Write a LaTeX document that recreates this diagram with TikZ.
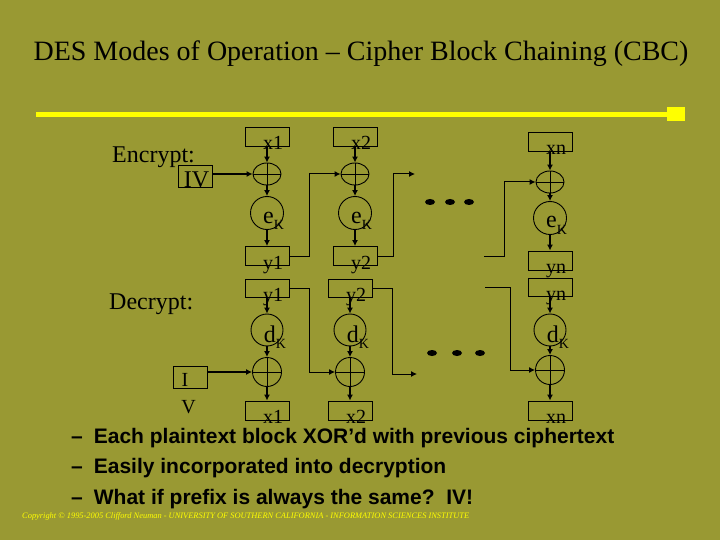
\documentclass[tikz,border=0pt]{standalone}
\usepackage{fontspec}
\setmainfont{Liberation Serif}
\newfontfamily\bulletfont{Liberation Sans}
\usetikzlibrary{arrows.meta,shapes.geometric}
\definecolor{olivebg}{RGB}{153,153,51}
\definecolor{baryellow}{RGB}{255,255,0}
% letter with a lowered K
\newcommand{\kname}[1]{{\fontsize{24}{24}\selectfont #1}\raisebox{-6pt}{\fontsize{14}{14}\selectfont K}}

\begin{document}
\begin{tikzpicture}[x=1pt,y=-1pt,
    every node/.style={inner sep=0pt},
    tag/.style={font=\fontsize{20}{20}\selectfont,text height=14pt,text depth=4pt},
    blk/.style={draw,line width=0.9pt,minimum width=44pt,minimum height=19pt,
        label={[tag,xshift=6pt,yshift=-8pt]center:#1}},
    xorop/.style={draw,line width=0.9pt,ellipse,minimum width=28pt,minimum height=22pt,
        path picture={\draw[line width=0.9pt] (path picture bounding box.north) -- (path picture bounding box.south)
            (path picture bounding box.west) -- (path picture bounding box.east);}},
    keyop/.style={draw,line width=0.9pt,circle,minimum size=33pt},
    arr/.style={-{Latex[length=6pt,width=6pt]},line width=1.4pt},
    link/.style={-{Latex[length=6pt,width=6pt]},line width=1pt},
    dot/.style={fill,ellipse,minimum width=10pt,minimum height=6pt}
]
    % background and title bar
    \fill[olivebg] (0,0) rectangle (720,540);
    \node[anchor=base,font=\fontsize{28}{28}\selectfont] (title) at (361,61)
        {DES Modes of Operation – Cipher Block Chaining (CBC)};
    \draw[baryellow,line width=5pt] (36,114.5) -- (667,114.5);
    \fill[baryellow] (667,107) rectangle (685,121);

    % encryption
    \node[anchor=base west,font=\fontsize{24}{24}\selectfont] (enc) at (112,163) {Encrypt:};
    \node[draw,line width=0.9pt,minimum width=34pt,minimum height=22pt,
        label={[font=\fontsize{24}{24}\selectfont,xshift=1.5pt,yshift=-3.5pt]center:IV}]
        (iv) at (195,176.5) {};

    \node[blk=x1] (ex1) at (267,136.5) {};
    \node[xorop] (eo1) at (267,174) {};
    \node[keyop,label={[tag,xshift=6.5pt,yshift=-5pt]center:\kname{e}}] (ek1) at (267,213) {};
    \node[blk=y1] (ey1) at (267,256) {};

    \node[blk=x2] (ex2) at (355,136.5) {};
    \node[xorop] (eo2) at (355,174) {};
    \node[keyop,label={[tag,xshift=6.5pt,yshift=-5pt]center:\kname{e}}] (ek2) at (355,213) {};
    \node[blk=y2] (ey2) at (355,256) {};

    \node[blk=xn] (exn) at (550,142) {};
    \node[xorop] (eon) at (550,182) {};
    \node[keyop,label={[tag,xshift=6.5pt,yshift=-5pt]center:\kname{e}}] (ekn) at (550,218) {};
    \node[blk=yn] (eyn) at (550,260.5) {};

    \foreach \c in {1,2,n} {
        \draw[arr] (ex\c) -- (eo\c);
        \draw[arr] (eo\c) -- (ek\c);
        \draw[arr] (ek\c) -- (ey\c);
    }
    \draw[arr] (iv.east |- eo1.west) -- (eo1.west);
    \draw[link] (ey1.east) -- ++(20,0) |- (eo2.west);
    \coordinate (eout) at (415,174);
    \coordinate (ein) at (484,256);
    \draw[link] (ey2.east) -- ++(16,0) |- (eout);
    \draw[link] (ein) -- ++(20,0) |- (eon.west);
    \foreach \dx in {430,450,469}
        \node[dot] (ed\dx) at (\dx,202) {};

    % decryption
    \node[anchor=base west,font=\fontsize{24}{24}\selectfont] (dec) at (109,309) {Decrypt:};
    \node[draw,line width=0.9pt,minimum width=34pt,minimum height=22pt,
        label={[font=\fontsize{20}{20}\selectfont,xshift=-5pt,yshift=-2.5pt]center:I},
        label={[font=\fontsize{20}{20}\selectfont,xshift=-1.5pt,yshift=-30pt]center:V}]
        (ivd) at (190,377) {};

    \node[blk=y1,minimum height=18pt] (dy1) at (267,288) {};
    \node[keyop,minimum size=32pt,label={[tag,xshift=8pt,yshift=-7pt]center:\kname{d}}] (dk1) at (267,330) {};
    \node[xorop,minimum width=29pt,minimum height=29pt] (do1) at (267,372) {};
    \node[blk=x1] (dx1) at (267,410.5) {};

    \node[blk=y2,minimum height=18pt] (dy2) at (350,288) {};
    \node[keyop,minimum size=32pt,label={[tag,xshift=8pt,yshift=-7pt]center:\kname{d}}] (dk2) at (350,330) {};
    \node[xorop,minimum width=29pt,minimum height=29pt] (do2) at (350,372) {};
    \node[blk=x2] (dx2) at (350,410.5) {};

    \node[blk=yn,minimum height=18pt] (dyn) at (550,287.5) {};
    \node[keyop,minimum size=32pt,label={[tag,xshift=8pt,yshift=-7pt]center:\kname{d}}] (dkn) at (550,330) {};
    \node[xorop,minimum width=29pt,minimum height=29pt] (don) at (550,370) {};
    \node[blk=xn] (dxn) at (550,410.5) {};

    \foreach \c in {1,2,n} {
        \draw[arr] (dy\c) -- (dk\c);
        \draw[arr] (dk\c) -- (do\c);
        \draw[arr] (do\c) -- (dx\c);
    }
    \draw[arr] (ivd.east |- do1.west) -- (do1.west);
    \draw[link] (dy1.east) -- ++(20,0) |- (do2.west);
    \coordinate (dout) at (417,374);
    \coordinate (din) at (485,287);
    \draw[link] (dy2.east) -- ++(20,0) |- (dout);
    \draw[link] (din) -- ++(25,0) |- (don.west);
    \foreach \dx in {432,457,480}
        \node[dot] (dd\dx) at (\dx,353) {};

    % bullets
    \node[anchor=base west,font=\bulletfont\bfseries\fontsize{21}{21}\selectfont] (b1) at (71,443)
        {–\hspace{11pt}Each plaintext block XOR’d with previous ciphertext};
    \node[anchor=base west,font=\bulletfont\bfseries\fontsize{21}{21}\selectfont] (b2) at (71,473)
        {–\hspace{11pt}Easily incorporated into decryption};
    \node[anchor=base west,font=\bulletfont\bfseries\fontsize{21}{21}\selectfont] (b3) at (71,504)
        {–\hspace{11pt}What if prefix is always the same?\ \ IV!};

    \node[anchor=west,text=baryellow,font=\itshape\fontsize{8.4}{8.4}\selectfont] (copy) at (22,516)
        {Copyright © 1995-2005 Clifford Neuman - UNIVERSITY OF SOUTHERN CALIFORNIA - INFORMATION SCIENCES INSTITUTE};
\end{tikzpicture}
\end{document}
